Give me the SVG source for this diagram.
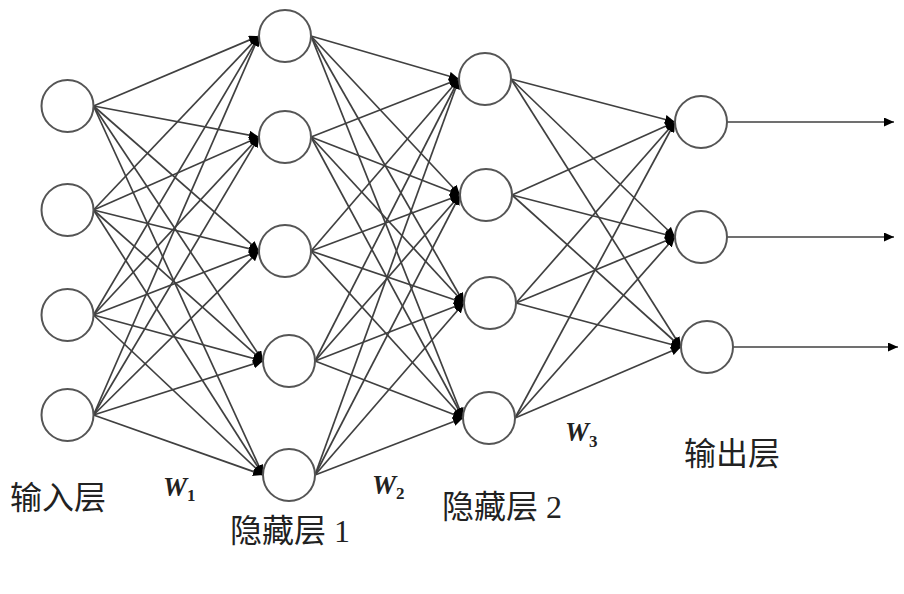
<svg xmlns="http://www.w3.org/2000/svg" width="904" height="594" viewBox="0 0 904 594">
<style>
.n{fill:#fff;stroke:#555;stroke-width:2}
.e line{stroke:#404040;stroke-width:1.7;fill:none}
.lbl{font-family:"Liberation Serif","Noto Sans CJK SC",serif;font-size:32px;fill:#222}
.w{font-family:"Liberation Serif",serif;font-weight:bold;font-style:italic;font-size:27px;fill:#222}
.ws{font-size:17px;font-style:normal}
</style>
<defs>
<marker id="ah" markerUnits="userSpaceOnUse" markerWidth="10" markerHeight="9" refX="10" refY="4.5" orient="auto">
<path d="M0,0 L10,4.5 L0,9 z" fill="#000"/>
</marker>
</defs>
<rect width="904" height="594" fill="#fff"/>
<g id="connectors" class="e" marker-end="url(#ah)">
<!-- input -> hidden1 -->
<line x1="93.5" y1="106" x2="259" y2="36"/>
<line x1="93.5" y1="106" x2="259" y2="137"/>
<line x1="93.5" y1="106" x2="259" y2="251"/>
<line x1="93.5" y1="106" x2="263" y2="361"/>
<line x1="93.5" y1="106" x2="263" y2="475"/>
<line x1="93.5" y1="210" x2="259" y2="36"/>
<line x1="93.5" y1="210" x2="259" y2="137"/>
<line x1="93.5" y1="210" x2="259" y2="251"/>
<line x1="93.5" y1="210" x2="263" y2="361"/>
<line x1="93.5" y1="210" x2="263" y2="475"/>
<line x1="93.5" y1="315" x2="259" y2="36"/>
<line x1="93.5" y1="315" x2="259" y2="137"/>
<line x1="93.5" y1="315" x2="259" y2="251"/>
<line x1="93.5" y1="315" x2="263" y2="361"/>
<line x1="93.5" y1="315" x2="263" y2="475"/>
<line x1="93.5" y1="415" x2="259" y2="36"/>
<line x1="93.5" y1="415" x2="259" y2="137"/>
<line x1="93.5" y1="415" x2="259" y2="251"/>
<line x1="93.5" y1="415" x2="263" y2="361"/>
<line x1="93.5" y1="415" x2="263" y2="475"/>
<!-- hidden1 -> hidden2 -->
<line x1="311" y1="36" x2="459" y2="79"/>
<line x1="311" y1="36" x2="460" y2="195"/>
<line x1="311" y1="36" x2="464" y2="303"/>
<line x1="311" y1="36" x2="463" y2="418"/>
<line x1="311" y1="137" x2="459" y2="79"/>
<line x1="311" y1="137" x2="460" y2="195"/>
<line x1="311" y1="137" x2="464" y2="303"/>
<line x1="311" y1="137" x2="463" y2="418"/>
<line x1="311" y1="251" x2="459" y2="79"/>
<line x1="311" y1="251" x2="460" y2="195"/>
<line x1="311" y1="251" x2="464" y2="303"/>
<line x1="311" y1="251" x2="463" y2="418"/>
<line x1="315" y1="361" x2="459" y2="79"/>
<line x1="315" y1="361" x2="460" y2="195"/>
<line x1="315" y1="361" x2="464" y2="303"/>
<line x1="315" y1="361" x2="463" y2="418"/>
<line x1="315" y1="475" x2="459" y2="79"/>
<line x1="315" y1="475" x2="460" y2="195"/>
<line x1="315" y1="475" x2="464" y2="303"/>
<line x1="315" y1="475" x2="463" y2="418"/>
<!-- hidden2 -> output -->
<line x1="511" y1="79" x2="675" y2="122"/>
<line x1="511" y1="79" x2="675" y2="237"/>
<line x1="511" y1="79" x2="681" y2="347"/>
<line x1="512" y1="195" x2="675" y2="122"/>
<line x1="512" y1="195" x2="675" y2="237"/>
<line x1="512" y1="195" x2="681" y2="347"/>
<line x1="516" y1="303" x2="675" y2="122"/>
<line x1="516" y1="303" x2="675" y2="237"/>
<line x1="516" y1="303" x2="681" y2="347"/>
<line x1="515" y1="418" x2="675" y2="122"/>
<line x1="515" y1="418" x2="675" y2="237"/>
<line x1="515" y1="418" x2="681" y2="347"/>
<!-- outputs -->
<line x1="727" y1="122" x2="894" y2="122"/>
<line x1="727" y1="237" x2="894" y2="237"/>
<line x1="733" y1="347" x2="898" y2="347"/>
</g>
<g id="in1"><circle class="n" cx="67.5" cy="106" r="26"/></g>
<g id="in2"><circle class="n" cx="67.5" cy="210" r="26"/></g>
<g id="in3"><circle class="n" cx="67.5" cy="315" r="26"/></g>
<g id="in4"><circle class="n" cx="67.5" cy="415" r="26"/></g>
<g id="h1_1"><circle class="n" cx="285" cy="36" r="26"/></g>
<g id="h1_2"><circle class="n" cx="285" cy="137" r="26"/></g>
<g id="h1_3"><circle class="n" cx="285" cy="251" r="26"/></g>
<g id="h1_4"><circle class="n" cx="289" cy="361" r="26"/></g>
<g id="h1_5"><circle class="n" cx="289" cy="475" r="26"/></g>
<g id="h2_1"><circle class="n" cx="485" cy="79" r="26"/></g>
<g id="h2_2"><circle class="n" cx="486" cy="195" r="26"/></g>
<g id="h2_3"><circle class="n" cx="490" cy="303" r="26"/></g>
<g id="h2_4"><circle class="n" cx="489" cy="418" r="26"/></g>
<g id="out1"><circle class="n" cx="701" cy="122" r="26"/></g>
<g id="out2"><circle class="n" cx="701" cy="237" r="26"/></g>
<g id="out3"><circle class="n" cx="707" cy="347" r="26"/></g>
<g id="labels">
<text class="lbl" x="10" y="509">输入层</text>
<text class="lbl" x="230" y="542">隐藏层 1</text>
<text class="lbl" x="442" y="518">隐藏层 2</text>
<text class="lbl" x="684" y="465">输出层</text>
<text class="w" x="163" y="496">W<tspan class="ws" dy="5">1</tspan></text>
<text class="w" x="372" y="494">W<tspan class="ws" dy="5">2</tspan></text>
<text class="w" x="565" y="441">W<tspan class="ws" dy="6">3</tspan></text>
</g>
</svg>
